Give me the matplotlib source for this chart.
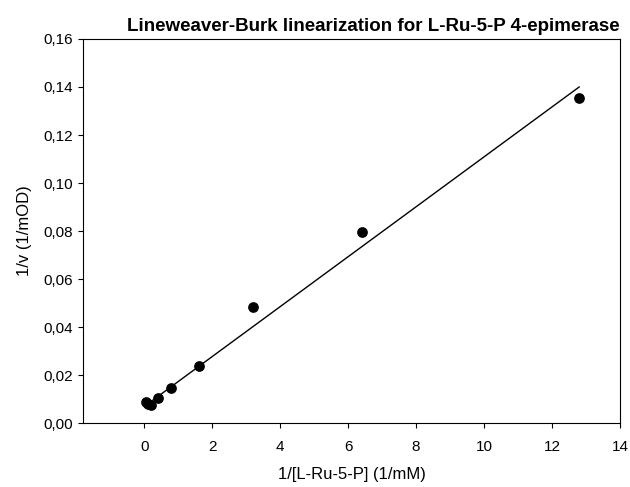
import numpy as np
import matplotlib
matplotlib.use('Agg')
import matplotlib.pyplot as plt
from matplotlib.ticker import FuncFormatter

# measured points
inv_s = [0.05, 0.1, 0.2, 0.4, 0.8, 1.6, 3.2, 6.4, 12.8]
inv_v = [0.0090, 0.0080, 0.0075, 0.0105, 0.0145, 0.0237, 0.0485, 0.0795, 0.1355]

# regression line end points
fit_x = [0.05, 12.8]
fit_y = [0.0075, 0.1400]

plt.rcParams['font.family'] = ['Liberation Sans', 'DejaVu Sans']

fig = plt.figure(figsize=(6.3, 4.87), dpi=100)
ax = fig.add_axes([0.132, 0.131, 0.852, 0.789])

ax.plot(fit_x, fit_y, color='black', lw=1.0)
ax.scatter(inv_s, inv_v, s=45, color='black', zorder=3)

ax.set_xlim(-1.8, 14)
ax.set_ylim(0, 0.16)
ax.set_xticks(np.arange(0, 15, 2))
ax.set_yticks(np.arange(0, 0.161, 0.02))
ax.yaxis.set_major_formatter(FuncFormatter(lambda v, p: ('%.2f' % v).replace('.', ',')))
ax.tick_params(labelsize=11, direction='out', length=3.6)
ax.tick_params(axis='x', pad=8.5)
ax.tick_params(axis='y', pad=4)

ax.set_xlabel('1/[L-Ru-5-P] (1/mM)', fontsize=12, labelpad=9)
ax.set_ylabel('1/v (1/mOD)', fontsize=12, labelpad=8)
ax.set_title('Lineweaver-Burk linearization for L-Ru-5-P 4-epimerase', fontsize=13.5, fontweight='bold', x=0.54, pad=6)

fig.savefig('out.png', dpi=100)
